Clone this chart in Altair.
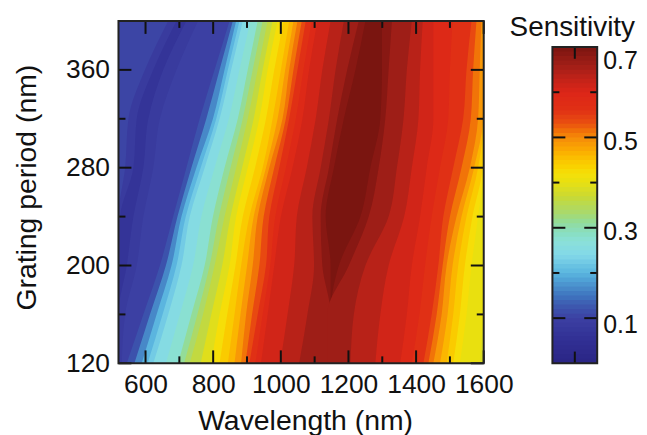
import altair as alt
import pandas as pd

FONT = "Liberation Sans"

periods = [120, 160, 200, 240, 280, 320, 360, 400]

# Colour bands from left to right: level of the band and where it begins
# (nm right of the 520 nm plot edge) at each grating period above.
band_levels = [
    0.085, 0.065, 0.085, 0.10,
    0.12, 0.165, 0.20, 0.225, 0.25, 0.275, 0.312, 0.337, 0.362, 0.392, 0.422, 0.442, 0.462, 0.487,
    0.512, 0.537, 0.562, 0.587, 0.612, 0.637, 0.662, 0.685, 0.70,
    0.685, 0.662, 0.637, 0.612, 0.587, 0.562, 0.537, 0.512, 0.487, 0.462, 0.442, 0.422, 0.402, 0.385,
]
band_starts = [
    [0, 0, 0, 0, 20, 30, 80, 150],
    [0, 0, 0, 5, 45, 55, 105, 175],
    [0, 0, 25, 45, 75, 90, 135, 205],
    [10, 20, 55, 75, 105, 125, 175, 240],
    [25, 75, 125, 165, 205, 245, 290, 335],
    [48, 95, 143, 178, 220, 265, 305, 345],
    [70, 115, 160, 190, 235, 285, 320, 355],
    [88, 133, 175, 203, 248, 295, 330, 365],
    [105, 150, 190, 215, 260, 305, 340, 375],
    [143, 185, 225, 250, 290, 333, 365, 398],
    [180, 220, 260, 285, 320, 360, 390, 420],
    [198, 238, 275, 303, 338, 375, 405, 435],
    [215, 255, 290, 320, 355, 390, 420, 450],
    [248, 280, 313, 338, 373, 408, 435, 465],
    [280, 305, 335, 355, 390, 425, 450, 480],
    [305, 328, 353, 375, 412, 445, 470, 498],
    [330, 350, 370, 395, 435, 465, 490, 515],
    [350, 368, 388, 408, 445, 480, 503, 528],
    [370, 385, 405, 420, 455, 495, 515, 540],
    [383, 403, 425, 438, 470, 505, 528, 553],
    [395, 420, 445, 455, 485, 515, 540, 565],
    [413, 435, 458, 473, 505, 535, 558, 583],
    [430, 450, 470, 490, 525, 555, 575, 600],
    [488, 510, 530, 538, 568, 595, 615, 640],
    [545, 570, 590, 585, 610, 635, 655, 680],
    [640, 640, 615, 610, 635, 660, 690, 725],
    [640, 640, 640, 625, 650, 680, 715, 745],
    [640, 640, 665, 730, 760, 790, 795, 795],
    [630, 630, 695, 755, 785, 805, 815, 825],
    [700, 710, 745, 815, 840, 860, 870, 885],
    [775, 790, 815, 862, 885, 905, 910, 918],
    [850, 870, 885, 910, 930, 950, 950, 950],
    [885, 908, 925, 945, 970, 995, 1000, 1008],
    [920, 945, 965, 980, 1010, 1040, 1050, 1065],
    [935, 960, 978, 1000, 1035, 1063, 1070, 1080],
    [950, 975, 990, 1020, 1060, 1085, 1090, 1095],
    [970, 993, 1008, 1035, 1073, 1100, 1102, 1102],
    [990, 1010, 1025, 1050, 1085, 1102, 1102, 1102],
    [1010, 1030, 1045, 1068, 1098, 1102, 1102, 1102],
    [1030, 1050, 1065, 1085, 1102, 1102, 1102, 1102],
    [1090, 1100, 1102, 1102, 1102, 1102, 1102, 1102],
]
base_level = 0.105

color_stops = [0.0, 0.05, 0.10, 0.13, 0.17, 0.20, 0.24, 0.27, 0.30, 0.33, 0.37, 0.40, 0.42, 0.45, 0.48, 0.50, 0.53, 0.56, 0.60, 0.63, 0.66, 0.70]
color_hex = ["#2a2585", "#312f93", "#3c40a3", "#3e5bb0", "#4b8ecb", "#5bb5df", "#84d8e8", "#8ce0d8", "#8fdcb0", "#a8d870", "#cbd930", "#e8e010", "#f5e00a", "#fbc400", "#f9a005", "#f58a0a", "#ea5010", "#e03015", "#dc2618", "#c02318", "#a01e17", "#7a1510"]

x_major = [600, 800, 1000, 1200, 1400, 1600]
x_minor = [700, 900, 1100, 1300, 1500]
y_major = [120, 200, 280, 360]
y_minor = [160, 240, 320]

W, H = 367, 344
BAR_W = 45

color = alt.Color("v:Q", legend=None, scale=alt.Scale(domain=color_stops, range=color_hex))
xs = alt.Scale(domain=[520, 1600], nice=False, zero=False)
ys = alt.Scale(domain=[120, 400], nice=False, zero=False)


def area_layer(level, starts):
    df = pd.DataFrame({
        "p": periods,
        "a": [min(1600, 520 + s * 0.98) for s in starts],
        "b": [1600] * len(periods),
        "v": [level] * len(periods),
    })
    return alt.Chart(df).mark_area(orient="horizontal", interpolate="monotone", clip=True, strokeWidth=0).encode(
        y=alt.Y("p:Q", scale=ys),
        x=alt.X("a:Q", scale=xs),
        x2="b:Q",
        color=color,
    )


base = alt.Chart(pd.DataFrame({"a": [520], "b": [1600], "c": [120], "d": [400], "v": [base_level]})).mark_rect(strokeWidth=0).encode(
    x=alt.X("a:Q", scale=xs, title="Wavelength (nm)",
            axis=alt.Axis(values=x_major, format="d", ticks=False, domain=False, grid=False, labelFlush=False,
                          labelFontSize=26.5, titleFontSize=28.5, labelFont=FONT, titleFont=FONT,
                          titleFontWeight="normal", labelColor="#111", titleColor="#111",
                          labelPadding=8, titlePadding=9, labelOverlap=False, titleX=187.5)),
    x2="b:Q",
    y=alt.Y("c:Q", scale=ys, title="Grating period (nm)",
            axis=alt.Axis(values=y_major, format="d", ticks=False, domain=False, grid=False, labelFlush=False,
                          labelFontSize=26.5, titleFontSize=28.5, labelFont=FONT, titleFont=FONT,
                          titleFontWeight="normal", labelColor="#111", titleColor="#111",
                          labelPadding=9, titlePadding=24, labelOverlap=False, titleY=167)),
    y2="d:Q",
    color=color,
)


def xticks(vals, y0, y1, sw):
    return alt.Chart(pd.DataFrame({"t": vals})).mark_rule(color="#111", strokeWidth=sw).encode(
        x=alt.X("t:Q", scale=xs), y=alt.value(y0), y2=alt.value(y1))


def yticks(vals, x0, x1, sw):
    return alt.Chart(pd.DataFrame({"t": vals})).mark_rule(color="#111", strokeWidth=sw).encode(
        y=alt.Y("t:Q", scale=ys), x=alt.value(x0), x2=alt.value(x1))


frame = alt.Chart(pd.DataFrame({"a": [520], "b": [1600], "c": [120], "d": [400]})).mark_rect(
    fill="transparent", stroke="#222", strokeWidth=2).encode(
    x=alt.X("a:Q", scale=xs), x2="b:Q", y=alt.Y("c:Q", scale=ys), y2="d:Q")

left = alt.layer(
    base,
    *[area_layer(l, s) for l, s in zip(band_levels, band_starts)],
    xticks(x_major, 0, 13, 2), xticks(x_minor, 0, 7, 2),
    xticks(x_major, H, H - 13, 2), xticks(x_minor, H, H - 7, 2),
    yticks(y_major, 0, 13, 2), yticks(y_minor, 0, 7, 2),
    yticks(y_major, W, W - 13, 2), yticks(y_minor, W, W - 7, 2),
    frame,
).properties(width=W, height=H, view=alt.ViewBackground(stroke="transparent"))

# colour bar: each step paints from its level up to the top of the bar
bar_levels = list(range(0, 70))
bar_df = pd.DataFrame({"y": [b / 100 for b in bar_levels], "y2": [0.7] * len(bar_levels),
                       "v": [(b + 0.5) / 100 for b in bar_levels]})
bs = alt.Scale(domain=[0, H / 454], nice=False, zero=False)
bar_y = alt.Y("y:Q", scale=bs, axis=None)

bar = alt.Chart(bar_df).mark_rect(strokeWidth=0).encode(
    x=alt.value(0), x2=alt.value(BAR_W), y=bar_y, y2="y2:Q", color=color)

bar_major = [0.1, 0.3, 0.5]
bar_minor = [0.2, 0.4, 0.6]
bar_label_text = ["0.7", "0.5", "0.3", "0.1"]
bar_label_pos = [0.67, 0.49, 0.291, 0.084]


def bticks(vals, x0, x1):
    return alt.Chart(pd.DataFrame({"y": vals})).mark_rule(color="#111", strokeWidth=2).encode(
        y=bar_y, x=alt.value(x0), x2=alt.value(x1))


center_ticks = alt.Chart(pd.DataFrame({"y": [0.7, 0.0], "y2": [0.674, 0.026]})).mark_rule(color="#111", strokeWidth=2).encode(
    y=bar_y, y2="y2:Q", x=alt.value(BAR_W / 2))

bar_frame = alt.Chart(pd.DataFrame({"y": [0.0], "y2": [0.7]})).mark_rect(
    fill="transparent", stroke="#222", strokeWidth=2).encode(
    y=bar_y, y2="y2:Q", x=alt.value(0), x2=alt.value(BAR_W))

labels = alt.Chart(pd.DataFrame({"y": bar_label_pos, "t": bar_label_text})).mark_text(
    align="left", baseline="middle", fontSize=25, font=FONT, color="#111").encode(
    y=bar_y, x=alt.value(51), text="t:N")

bar_title = alt.Chart(pd.DataFrame({"y": [0.742], "t": ["Sensitivity"]})).mark_text(
    align="center", baseline="middle", fontSize=28, font=FONT, color="#111").encode(
    y=bar_y, x=alt.value(20), text="t:N")

right = alt.layer(
    bar, bticks(bar_major, 0, 13), bticks(bar_major, BAR_W, BAR_W - 13),
    bticks(bar_minor, 0, 7), bticks(bar_minor, BAR_W, BAR_W - 7),
    center_ticks, bar_frame, labels, bar_title,
).properties(width=BAR_W, height=H, view=alt.ViewBackground(stroke="transparent"))

chart = alt.hconcat(left, right, spacing=69, bounds="flush").properties(
    padding={"left": 4, "top": 4, "right": 0, "bottom": 0}, background="white"
).resolve_scale(color="shared").configure_view(stroke="transparent")

chart.save("out.html", embed_options={"renderer": "svg", "actions": False})
